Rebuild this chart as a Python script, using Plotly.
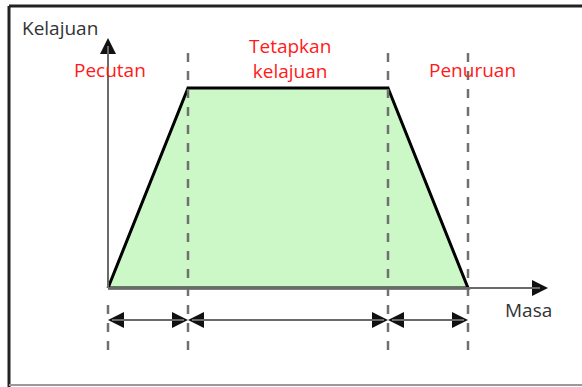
import plotly.graph_objects as go

# phase boundaries (time units) and speed at each boundary
phase_times = [0, 2, 7, 9]
speeds = [0, 5, 5, 0]
phase_labels = ["Pecutan", "Tetapkan<br>kelajuan", "Penuruan"]
axis_labels = ["Kelajuan", "Masa"]

FILL = "#ccf7c6"
RED = "#ff1a1a"
GREY = "#707070"
LINE_GREY = "#6a6a6a"
FONT = "Open Sans, Noto Sans, sans-serif"

fig = go.Figure()

# velocity-time trapezoid
fig.add_trace(go.Scatter(
    x=phase_times + [phase_times[0]], y=speeds + [speeds[0]],
    mode="lines", fill="toself", fillcolor=FILL,
    line=dict(color="black", width=3), hoverinfo="skip",
))

# dashed phase boundaries
for i, t in enumerate(phase_times):
    y0 = -1.55
    y1 = -0.25 if i == 0 else 6.0
    fig.add_shape(type="line", x0=t, x1=t, y0=y0, y1=y1,
                  line=dict(color=GREY, width=2.5, dash="dash"), layer="above")

# axes: grey shafts
y_tip, x_tip = 6.25, 11.0
fig.add_shape(type="line", x0=0, x1=0, y0=0, y1=y_tip - 0.2,
              line=dict(color=LINE_GREY, width=2))
fig.add_shape(type="line", x0=0, x1=x_tip - 0.2, y0=0, y1=0,
              line=dict(color=LINE_GREY, width=2))

# dimension arrows between boundaries
dim_y = -0.8
for a, b in zip(phase_times[:-1], phase_times[1:]):
    fig.add_shape(type="line", x0=a + 0.1, x1=b - 0.1, y0=dim_y, y1=dim_y,
                  line=dict(color=LINE_GREY, width=2))

# black arrow heads as markers
hx, hy, hs = [], [], []
hx.append(0); hy.append(y_tip); hs.append("arrow-up")
hx.append(x_tip); hy.append(0); hs.append("arrow-right")
for a, b in zip(phase_times[:-1], phase_times[1:]):
    hx += [a, b]; hy += [dim_y, dim_y]; hs += ["arrow-left", "arrow-right"]
fig.add_trace(go.Scatter(x=hx, y=hy, mode="markers", hoverinfo="skip",
                         marker=dict(symbol=hs, size=16, color="#111",
                                     line=dict(width=0))))

annots = []
# phase labels
label_pos = [(0.05, 5.45), (4.55, 5.75), (9.1, 5.45)]
for (lx, ly), txt in zip(label_pos, phase_labels):
    annots.append(dict(x=lx, y=ly, xref="x", yref="y", text=txt, showarrow=False,
                       font=dict(color=RED, size=19, family=FONT)))

annots.append(dict(x=-1.2, y=6.5, xref="x", yref="y", text=axis_labels[0], showarrow=False,
                   font=dict(color="#333", size=19, family=FONT)))
annots.append(dict(x=10.5, y=-0.55, xref="x", yref="y", text=axis_labels[1], showarrow=False,
                   font=dict(color="#333", size=19, family=FONT)))

fig.update_layout(annotations=annots)

# frame lines (top, left, bottom)
fig.add_shape(type="line", xref="paper", yref="paper", x0=9/582, x1=1, y0=1-6/387, y1=1-6/387,
              line=dict(color="#222", width=3))
fig.add_shape(type="line", xref="paper", yref="paper", x0=9/582, x1=9/582, y0=1-6/387, y1=0,
              line=dict(color="#222", width=3))
fig.add_shape(type="line", xref="paper", yref="paper", x0=9/582, x1=1, y0=2/387, y1=2/387,
              line=dict(color="#999", width=2))

fig.update_layout(
    width=582, height=387,
    margin=dict(l=0, r=0, t=0, b=0),
    paper_bgcolor="white", plot_bgcolor="white",
    showlegend=False,
    xaxis=dict(range=[-2.7, 11.85], visible=False, fixedrange=True),
    yaxis=dict(range=[-2.475, 7.2], visible=False, fixedrange=True),
)

fig.write_html("out.html", config={"displayModeBar": False},
               post_script="document.body.style.margin='0';")
